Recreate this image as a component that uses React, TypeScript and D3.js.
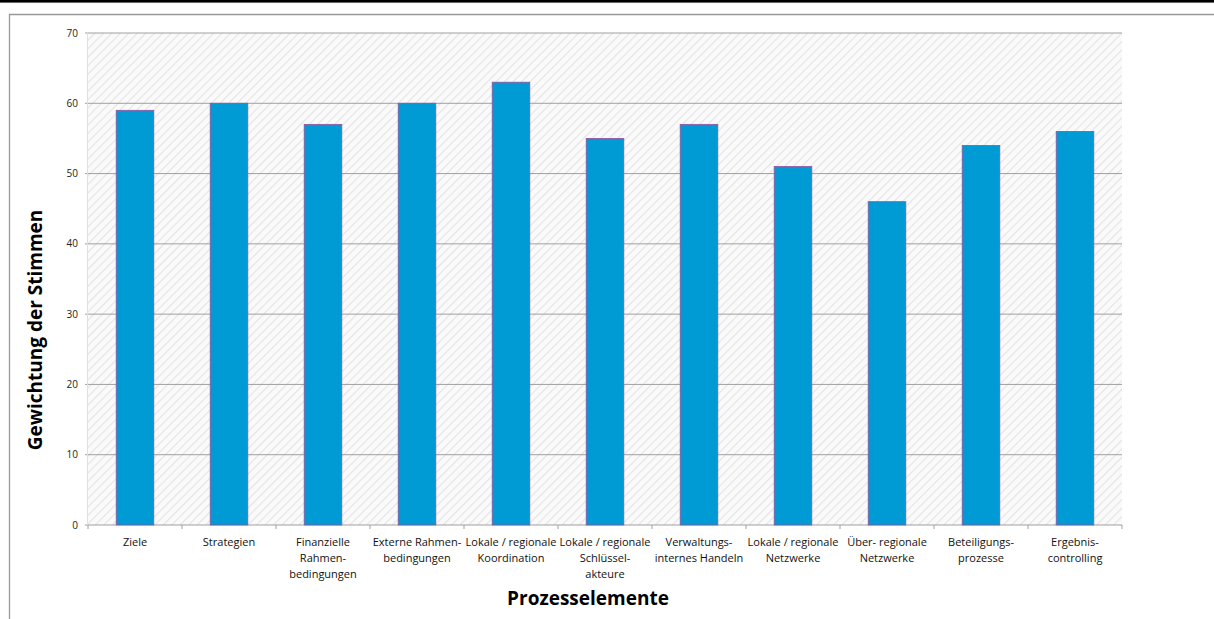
import React from "react";
import * as d3 from "d3";

const categories: string[][] = [
  ["Ziele"],
  ["Strategien"],
  ["Finanzielle", "Rahmen-", "bedingungen"],
  ["Externe Rahmen-", "bedingungen"],
  ["Lokale / regionale", "Koordination"],
  ["Lokale / regionale", "Schlüssel-", "akteure"],
  ["Verwaltungs-", "internes Handeln"],
  ["Lokale / regionale", "Netzwerke"],
  ["Über- regionale", "Netzwerke"],
  ["Beteiligungs-", "prozesse"],
  ["Ergebnis-", "controlling"],
];
const values: number[] = [59, 60, 57, 60, 63, 55, 57, 51, 46, 54, 56];
const yTicks: number[] = [0, 10, 20, 30, 40, 50, 60, 70];
const yTitle = "Gewichtung der Stimmen";
const xTitle = "Prozesselemente";

const W = 1214;
const H = 619;
const left = 88;
const right = 1122;
const top = 33;
const bottom = 525;
const font = "'Open Sans', 'Noto Sans', sans-serif";

export default function App() {
  const keys = categories.map((_, i) => String(i));
  const x = d3.scaleBand<string>().domain(keys).range([left, right]).paddingInner(0.6).paddingOuter(0.3);
  const band = d3.scaleBand<string>().domain(keys).range([left, right]);
  const y = d3.scaleLinear().domain([0, 70]).range([bottom, top]);

  return (
    <svg width={W} height={H} style={{ position: "absolute", left: 0, top: 0 }} fontFamily={font}>
      <defs>
        <pattern id="hatch" width="6" height="6" patternUnits="userSpaceOnUse" patternTransform="rotate(45)">
          <rect width="6" height="6" fill="#fafafa" />
          <line x1="0" y1="0" x2="0" y2="6" stroke="#e4e4e4" strokeWidth="2.2" />
        </pattern>
      </defs>
      <rect x={0} y={0} width={W} height={H} fill="#fff" />
      <rect x={0} y={0} width={W} height={2.6} fill="#000" />
      <line x1={9} x2={W} y1={14.5} y2={14.5} stroke="#999" strokeWidth={1.3} />
      <line x1={9.5} x2={9.5} y1={14} y2={H} stroke="#999" strokeWidth={1.3} />

      <rect x={left} y={top} width={right - left} height={bottom - top} fill="url(#hatch)" />
      {yTicks.map((t) => (
        <g key={t}>
          <line x1={left - 3} x2={right} y1={y(t)} y2={y(t)} stroke="#a0a0a0" strokeWidth={1} />
          <text x={78} y={y(t)} dy="0.35em" textAnchor="end" fontSize={10} fill="#222">
            {t}
          </text>
        </g>
      ))}
      <line x1={left - 0.5} x2={left - 0.5} y1={top} y2={bottom} stroke="#e0e0e0" strokeWidth={1} />

      {values.map((v, i) => (
        <rect
          key={i}
          x={x(String(i))!}
          y={y(v)}
          width={x.bandwidth()}
          height={y(0) - y(v)}
          fill="#009ad5"
          stroke="#9a4f9e"
          strokeWidth={0.8}
        />
      ))}

      {d3.range(categories.length + 1).map((i) => {
        const xx = left + i * band.step();
        return <line key={i} x1={xx} x2={xx} y1={bottom} y2={bottom + 4} stroke="#a0a0a0" strokeWidth={1} />;
      })}

      {categories.map((lines, i) => {
        const cx = band(String(i))! + band.bandwidth() / 2;
        return (
          <text key={i} x={cx} textAnchor="middle" fontSize={11} fill="#111">
            {lines.map((l, j) => (
              <tspan key={j} x={cx} y={546 + j * 16}>
                {l}
              </tspan>
            ))}
          </text>
        );
      })}

      <text x={588} y={605} textAnchor="middle" fontSize={19} fontWeight="bold" fill="#000">
        {xTitle}
      </text>
      <text
        transform={`translate(42,330) rotate(-90)`}
        textAnchor="middle"
        fontSize={19}
        fontWeight="bold"
        fill="#000"
      >
        {yTitle}
      </text>
    </svg>
  );
}
